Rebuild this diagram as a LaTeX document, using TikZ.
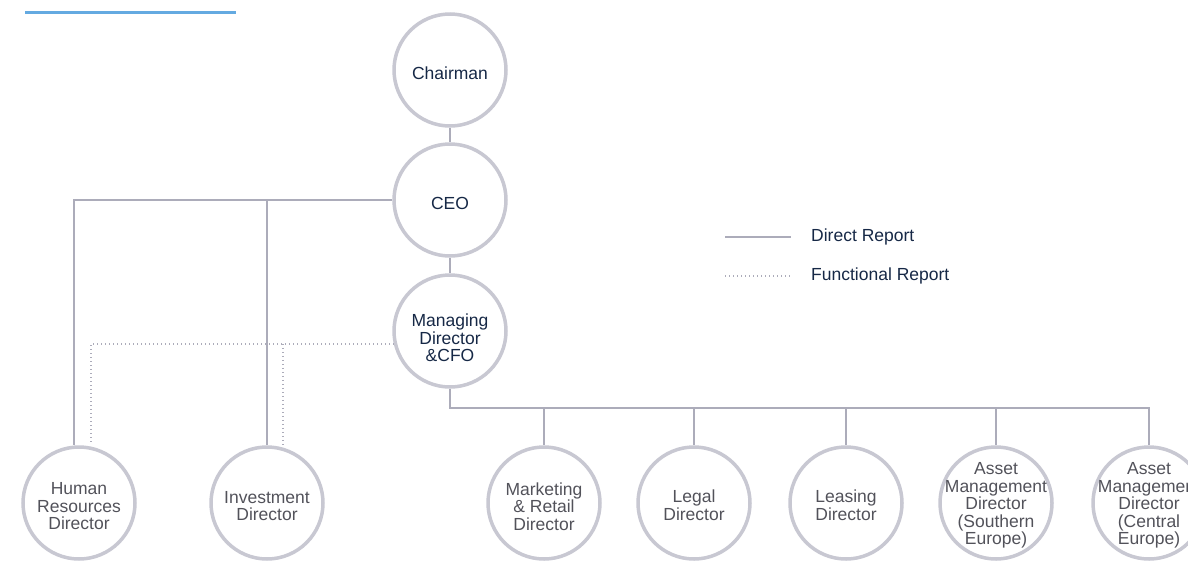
\documentclass[tikz,border=0pt]{standalone}
\usepackage{fontspec}
\setmainfont{Liberation Sans}
\definecolor{ring}{RGB}{200,200,210}
\definecolor{wire}{RGB}{172,172,186}
\definecolor{navy}{RGB}{22,40,70}
\definecolor{greytxt}{RGB}{82,82,90}
\definecolor{accent}{RGB}{100,170,225}
\begin{document}
\begin{tikzpicture}[x=1pt,y=-1pt,
  person/.style={circle,draw=ring,line width=3.5pt,minimum size=112pt,inner sep=0pt},
  caption/.style={align=center,inner sep=0pt,font=\fontsize{17.5}{17.5}\selectfont},
  upper/.style={caption,text=navy},
  lower/.style={caption,text=greytxt},
  direct/.style={draw=wire,line width=1.3pt},
  functional/.style={draw=wire,line width=1.1pt,dash pattern=on 1pt off 3pt},
  legendtext/.style={anchor=west,text=navy,inner sep=0pt,font=\fontsize{17.5}{17.5}\selectfont}]
\useasboundingbox (0,0) rectangle (1188,560);
\clip (0,0) rectangle (1188,560);
% accent bar
\coordinate (barA) at (25,12.7);
\coordinate (barB) at (236,12.7);
\draw[accent,line width=2.7pt] (barA) -- (barB);
% circles
\node[person] (chair) at (450,70) {};
\node[person] (ceo) at (450,200) {};
\node[person] (md) at (450,331) {};
\node[person] (hr) at (79,503) {};
\node[person] (inv) at (267,503) {};
\node[person] (mkt) at (544,503) {};
\node[person] (legal) at (694,503) {};
\node[person] (leas) at (846,503) {};
\node[person] (ams) at (996,503) {};
\node[person] (amc) at (1149,503) {};
% captions (yshift is in canvas units: negative moves down)
\node[upper] (chairT) at ([yshift=-3pt]chair.center) {Chairman};
\node[upper] (ceoT) at ([yshift=-3pt]ceo.center) {CEO};
\node[upper] (mdT) at ([yshift=-7pt]md.center) {Managing\\Director\\\&CFO};
\node[lower] (hrT) at ([yshift=-3.5pt]hr.center) {Human\\Resources\\Director};
\node[lower] (invT) at ([yshift=-3pt]inv.center) {Investment\\Director};
\node[lower] (mktT) at ([yshift=-3.5pt]mkt.center) {Marketing\\\& Retail\\Director};
\node[lower] (legalT) at ([yshift=-2pt]legal.center) {Legal\\Director};
\node[lower] (leasT) at ([yshift=-2pt]leas.center) {Leasing\\Director};
\node[lower] (amsT) at ([yshift=-2.5pt]ams.center) {Asset\\Management\\Director\\(Southern\\Europe)};
\node[lower] (amcT) at ([yshift=-2.5pt]amc.center) {Asset\\Management\\Director\\(Central\\Europe)};
% direct reports
\draw[direct] (chair) -- (ceo);
\draw[direct] (ceo) -- (md);
\coordinate (hrd) at ([xshift=-5pt]hr.north);
\draw[direct] (ceo.west) -| (hrd);
\draw[direct] (ceo.west -| inv.north) -- (inv.north);
\coordinate (bus) at (450,408);
\draw[direct] (md.south) -- (bus) -| (amc.north);
\foreach \n in {mkt,legal,leas,ams}{
  \draw[direct] (bus -| \n.north) -- (\n.north);
}
% functional reports
\coordinate (hrf) at ([xshift=12pt]hr.north);
\coordinate (invf) at ([xshift=16pt]inv.north);
\draw[functional] (md.193) -| (hrf);
\draw[functional] (md.193 -| invf) -- (invf);
% legend
\coordinate (la) at (725,237);
\coordinate (lb) at (791,237);
\draw[direct] (la) -- (lb);
\node[legendtext] (ldirect) at (811,237) {Direct Report};
\coordinate (lc) at (725,276);
\coordinate (ld) at (793,276);
\draw[functional] (lc) -- (ld);
\node[legendtext] (lfunc) at (811,276) {Functional Report};
\end{tikzpicture}
\end{document}
